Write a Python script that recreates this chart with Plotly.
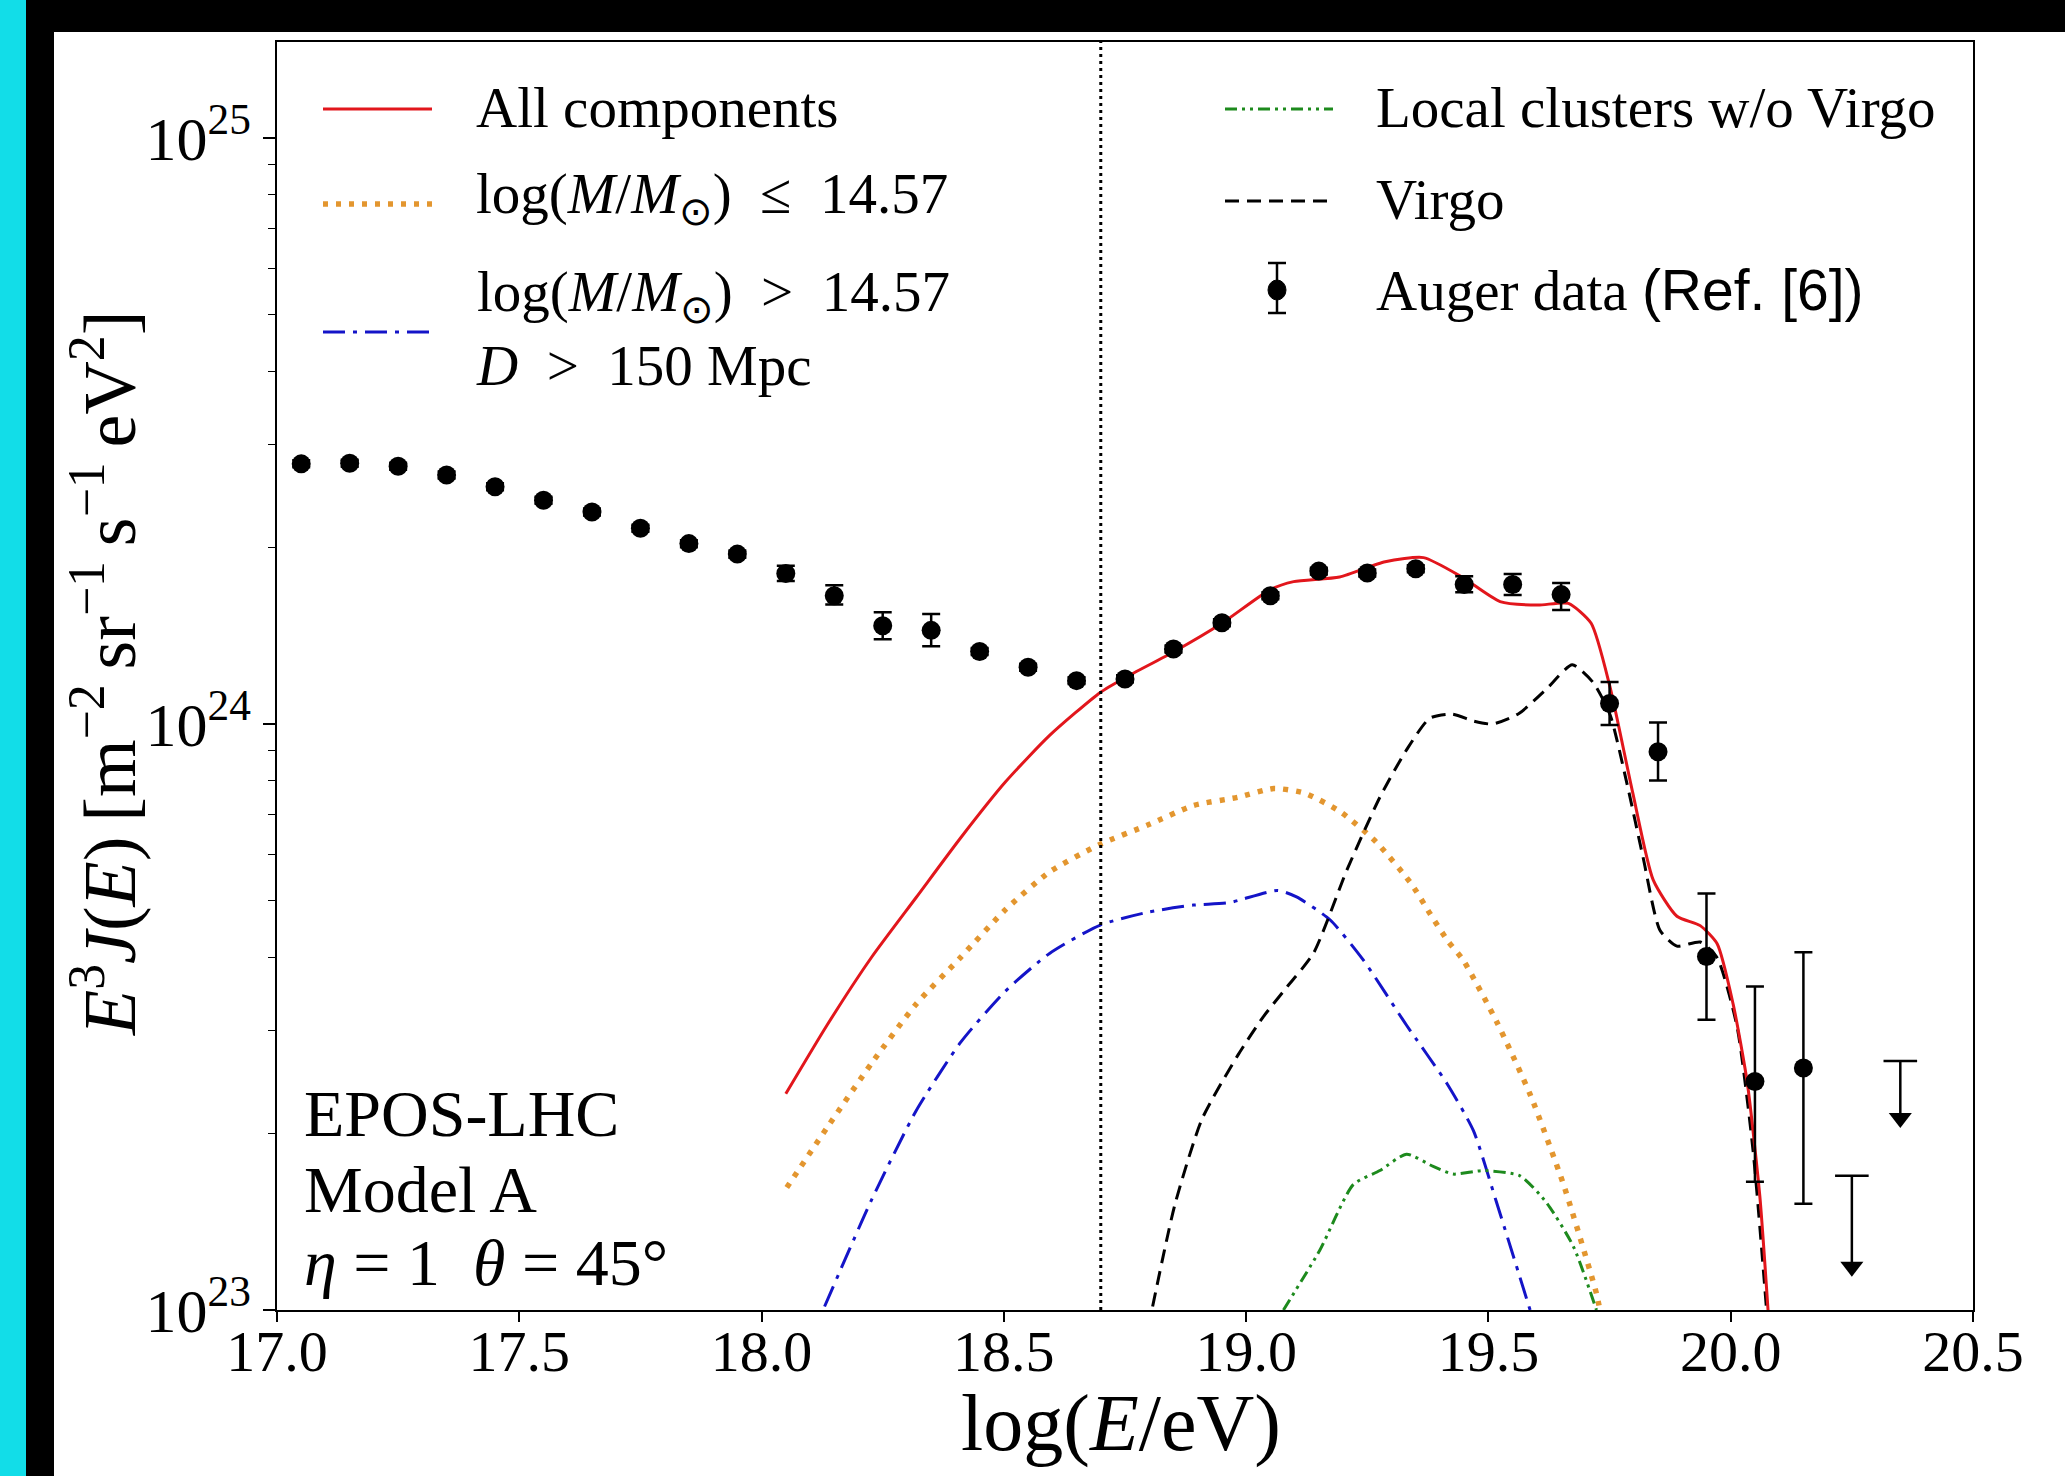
import numpy as np
import plotly.graph_objects as go

# ---------------- data ----------------
# Auger data points: log10(E/eV) and E^3 J(E) in units of 1e24
auger_logE = [17.05, 17.15, 17.25, 17.35, 17.45, 17.55, 17.65, 17.75, 17.85, 17.95,
              18.05, 18.15, 18.25, 18.35, 18.45, 18.55, 18.65, 18.75, 18.85, 18.95,
              19.05, 19.15, 19.25, 19.35, 19.45, 19.55, 19.65, 19.75, 19.85, 19.95,
              20.05, 20.15]
auger_flux = [2.780, 2.786, 2.754, 2.661, 2.541, 2.410, 2.301, 2.158, 2.032, 1.950,
              1.807, 1.656, 1.472, 1.445, 1.330, 1.250, 1.186, 1.194, 1.343, 1.489,
              1.656, 1.824, 1.811, 1.841, 1.730, 1.730, 1.663, 1.084, 0.897, 0.401,
              0.2455, 0.2588]
auger_err_up = [0.039, 0.039, 0.038, 0.037, 0.035, 0.034, 0.032, 0.030, 0.028, 0.027,
                0.055, 0.070, 0.080, 0.096, 0.018, 0.017, 0.016, 0.017, 0.019, 0.021,
                0.023, 0.025, 0.025, 0.026, 0.057, 0.073, 0.078, 0.096, 0.109, 0.113,
                0.111, 0.149]
auger_err_dn = [0.038, 0.038, 0.038, 0.037, 0.035, 0.033, 0.032, 0.030, 0.028, 0.027,
                0.053, 0.056, 0.076, 0.087, 0.018, 0.017, 0.016, 0.016, 0.018, 0.020,
                0.023, 0.025, 0.025, 0.025, 0.051, 0.070, 0.097, 0.088, 0.096, 0.088,
                0.080, 0.107]
# upper limits (units of 1e24): bar top and arrow tip
ul_logE = [20.25, 20.35]
ul_top = [0.1694, 0.2661]
ul_tip = [0.1151, 0.2065]

FLUX_UNIT = 1e24

# model curves: log10(E/eV) and log10(E^3 J)
all_logE = [18.05, 18.135, 18.227, 18.319, 18.411, 18.503, 18.595, 18.699, 18.752, 18.85,
            18.95, 19.049, 19.098, 19.193, 19.287, 19.366, 19.445, 19.524, 19.602, 19.665,
            19.712, 19.751, 19.798, 19.840, 19.889, 19.937, 19.972, 20.005, 20.034, 20.060,
            20.077]
all_logF = [23.369, 23.486, 23.602, 23.704, 23.806, 23.901, 23.981, 24.054, 24.080, 24.123,
            24.172, 24.229, 24.243, 24.251, 24.277, 24.284, 24.251, 24.209, 24.203, 24.206,
            24.172, 24.063, 23.882, 23.734, 23.672, 23.656, 23.625, 23.522, 23.389, 23.195,
            23.0]

low_logE = [18.052, 18.135, 18.227, 18.319, 18.411, 18.503, 18.595, 18.699, 18.798, 18.891,
            18.983, 19.057, 19.121, 19.195, 19.268, 19.342, 19.379, 19.416, 19.448, 19.517,
            19.586, 19.655, 19.723, 19.730]
low_logF = [23.209, 23.311, 23.421, 23.522, 23.602, 23.683, 23.748, 23.795, 23.828, 23.861,
            23.875, 23.890, 23.882, 23.850, 23.799, 23.726, 23.677, 23.630, 23.597, 23.492,
            23.368, 23.214, 23.028, 23.0]

high_logE = [18.130, 18.227, 18.319, 18.411, 18.503, 18.595, 18.699, 18.798, 18.891, 18.964,
             19.065, 19.104, 19.173, 19.242, 19.331, 19.414, 19.469, 19.517, 19.586]
high_logF = [23.006, 23.188, 23.340, 23.457, 23.544, 23.609, 23.657, 23.679, 23.691, 23.695,
             23.716, 23.705, 23.666, 23.597, 23.486, 23.387, 23.306, 23.183, 23.0]

local_logE = [19.077, 19.152, 19.221, 19.276, 19.331, 19.386, 19.427, 19.489, 19.565, 19.620,
              19.675, 19.723]
local_logF = [23.0, 23.102, 23.214, 23.238, 23.266, 23.245, 23.232, 23.238, 23.229, 23.183,
              23.109, 23.0]

virgo_logE = [18.807, 18.853, 18.909, 18.983, 19.035, 19.084, 19.139, 19.208, 19.276, 19.331,
              19.379, 19.425, 19.470, 19.508, 19.563, 19.620, 19.673, 19.716, 19.751, 19.786,
              19.819, 19.854, 19.889, 19.937, 19.972, 20.013, 20.046, 20.074]
virgo_logF = [23.006, 23.180, 23.326, 23.435, 23.500, 23.551, 23.609, 23.751, 23.875, 23.956,
              24.010, 24.017, 24.005, 24.000, 24.018, 24.060, 24.101, 24.071, 24.016, 23.898,
              23.773, 23.648, 23.621, 23.628, 23.601, 23.484, 23.273, 23.0]

ankle_logE = 18.7

x_ticks = [17.0, 17.5, 18.0, 18.5, 19.0, 19.5, 20.0, 20.5]
x_ticktext = ["17.0", "17.5", "18.0", "18.5", "19.0", "19.5", "20.0", "20.5"]
y_ticks = [1e23, 1e24, 1e25]
y_ticktext = ["10<sup>23</sup>", "10<sup>24</sup>", "10<sup>25</sup>"]

# ---------------- figure ----------------
W, H = 2065, 1476
ML, MR, MT, MB = 277, 92, 42, 166
PW, PH = W - ML - MR, H - MT - MB

def px(xp):
    return (xp - ML) / PW

def py(yp):
    return (H - MB - yp) / PH

SERIF = "Liberation Serif, Times New Roman, serif"

RED = "#e2161c"
ORANGE = "#e3962f"
BLUE = "#1414c8"
GREEN = "#1d8a1d"
BLACK = "#000000"

ORANGE_DASH = "5px,8px"
BLUE_DASH = "22px,8px,4px,8px"
GREEN_DASH = "12px,5px,3px,5px,3px,5px"
BLACK_DASH = "14px,8px"

fig = go.Figure()

def curve(xs, logs, color, width, dash):
    fig.add_trace(go.Scatter(
        x=xs, y=np.power(10.0, np.array(logs)), mode="lines",
        line=dict(color=color, width=width, dash=dash, shape="spline", smoothing=0.6),
        showlegend=False, hoverinfo="skip"))

curve(low_logE, low_logF, ORANGE, 5.5, ORANGE_DASH)
curve(high_logE, high_logF, BLUE, 3, BLUE_DASH)
curve(local_logE, local_logF, GREEN, 3, GREEN_DASH)
curve(virgo_logE, virgo_logF, BLACK, 3, BLACK_DASH)
curve(all_logE, all_logF, RED, 3, "solid")

# Auger data
fy = np.array(auger_flux) * FLUX_UNIT
fig.add_trace(go.Scatter(
    x=auger_logE, y=fy, mode="markers",
    marker=dict(color=BLACK, size=19, symbol="circle"),
    error_y=dict(type="data", symmetric=False,
                 array=np.array(auger_err_up) * FLUX_UNIT,
                 arrayminus=np.array(auger_err_dn) * FLUX_UNIT,
                 color=BLACK, thickness=2.5, width=9),
    showlegend=False, hoverinfo="skip"))

# upper limits: vertical bar, cap at the top, arrow head at the tip
top = np.array(ul_top) * FLUX_UNIT
tip = np.array(ul_tip) * FLUX_UNIT
fig.add_trace(go.Scatter(
    x=ul_logE, y=top, mode="markers",
    marker=dict(color=BLACK, size=24, symbol="line-ew", line=dict(color=BLACK, width=2.5)),
    error_y=dict(type="data", symmetric=False, array=[0, 0], arrayminus=top - tip,
                 color=BLACK, thickness=2.5, width=0),
    showlegend=False, hoverinfo="skip"))
fig.add_trace(go.Scatter(
    x=ul_logE, y=tip * 1.03, mode="markers",
    marker=dict(color=BLACK, size=20, symbol="triangle-down"),
    showlegend=False, hoverinfo="skip"))

shapes = []
# picture frame strips
shapes.append(dict(type="rect", xref="paper", yref="paper", x0=px(-5), x1=px(26), y0=py(H + 5), y1=py(-5),
                   fillcolor="#12dde8", line=dict(width=0), layer="below"))
shapes.append(dict(type="rect", xref="paper", yref="paper", x0=px(26), x1=px(54), y0=py(H + 5), y1=py(-5),
                   fillcolor="black", line=dict(width=0), layer="below"))
shapes.append(dict(type="rect", xref="paper", yref="paper", x0=px(26), x1=px(W + 5), y0=py(32), y1=py(-5),
                   fillcolor="black", line=dict(width=0), layer="below"))
# vertical dotted line
shapes.append(dict(type="line", xref="x", yref="paper", x0=ankle_logE, x1=ankle_logE, y0=0, y1=1,
                   line=dict(color="black", width=3, dash="3px,4px")))

# legend samples
def leg_line(x0, x1, yc, color, width, dash):
    shapes.append(dict(type="line", xref="paper", yref="paper", x0=px(x0), x1=px(x1),
                       y0=py(yc), y1=py(yc), line=dict(color=color, width=width, dash=dash)))

leg_line(323, 432, 109, RED, 3, "solid")
leg_line(323, 432, 204, ORANGE, 5.5, ORANGE_DASH)
leg_line(323, 432, 332, BLUE, 3, BLUE_DASH)
leg_line(1225, 1333, 109, GREEN, 3, GREEN_DASH)
leg_line(1225, 1333, 201, BLACK, 3, BLACK_DASH)
# Auger legend symbol
shapes.append(dict(type="line", xref="paper", yref="paper", x0=px(1277), x1=px(1277),
                   y0=py(263), y1=py(313), line=dict(color="black", width=2.5)))
for yy in (263, 313):
    shapes.append(dict(type="line", xref="paper", yref="paper", x0=px(1268), x1=px(1286),
                       y0=py(yy), y1=py(yy), line=dict(color="black", width=2.5)))
shapes.append(dict(type="circle", xref="paper", yref="paper", x0=px(1268), x1=px(1286),
                   y0=py(300), y1=py(280), fillcolor="black", line=dict(color="black", width=1)))

FS = 57
annotations = []
def text(xp, yp, s, size=FS, xanchor="left", angle=0):
    annotations.append(dict(xref="paper", yref="paper", x=px(xp), y=py(yp), text=s,
                            showarrow=False, xanchor=xanchor, yanchor="middle", align=xanchor,
                            textangle=angle, font=dict(family=SERIF, size=size, color="black")))

text(474, 107, "All components")
text(474, 198, "log(<i>M</i>/<i>M</i><sub>⊙</sub>)\u2002≤\u200214.57")
text(474, 328, "log(<i>M</i>/<i>M</i><sub>⊙</sub>)\u2002>\u200214.57<br><i>D</i>\u2002>\u2002150 Mpc")
text(1374, 107, "Local clusters w/o Virgo")
text(1374, 199, "Virgo")
text(1374, 290, "Auger data <span style='font-family:Liberation Sans, Arial, sans-serif'>(Ref. [6])</span>")

text(302, 1113, "EPOS-LHC", size=66)
text(302, 1189, "Model A", size=66)
text(302, 1262, "<i>η</i> = 1\u2002<i>θ</i> = 45°", size=66)

# axis titles
text(1121, 1424, "log(<i>E</i>/eV)", size=80, xanchor="center")
text(104, 674, "<i>E</i><sup>3</sup><i>J</i>(<i>E</i>)\u2009[m<sup>−2</sup>\u2009sr<sup>−1</sup>\u2009s<sup>−1</sup>\u2009eV<sup>2</sup>]",
     size=74, xanchor="center", angle=-90)

minor_vals = [m * 10.0 ** d for d in (23, 24, 25) for m in range(2, 10)]

fig.update_layout(
    width=W, height=H,
    margin=dict(l=ML, r=MR, t=MT, b=MB, pad=0),
    paper_bgcolor="white", plot_bgcolor="white",
    showlegend=False,
    shapes=shapes, annotations=annotations,
    font=dict(family=SERIF, color="black"),
    xaxis=dict(range=[17.0, 20.5], tickmode="array", tickvals=x_ticks, ticktext=x_ticktext,
               ticks="outside", ticklen=10, tickwidth=1.5, tickcolor="black",
               ticklabelstandoff=-20,
               showline=True, linecolor="black", linewidth=1.5, mirror=True,
               showgrid=False, zeroline=False, tickfont=dict(family=SERIF, size=58)),
    yaxis=dict(type="log", range=[23.0, 25.164], tickmode="array", tickvals=y_ticks,
               ticktext=y_ticktext, ticks="outside", ticklen=12, tickwidth=1.5, tickcolor="black",
               showline=True, linecolor="black", linewidth=1.5, mirror=True,
               showgrid=False, zeroline=False, tickfont=dict(family=SERIF, size=62),
               minor=dict(tickmode="array", tickvals=minor_vals, ticks="outside",
                          ticklen=7, tickwidth=1.2, tickcolor="black", showgrid=False)),
)

fig.write_html("out.html", config={"displayModeBar": False},
               post_script="document.body.style.margin='0';")
